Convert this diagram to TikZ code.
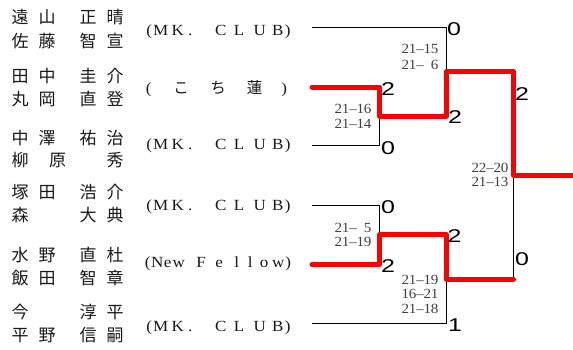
\documentclass[tikz,border=0pt]{standalone}
\usepackage{fontspec}
\setmainfont{Liberation Serif}
\newfontfamily\jpf{Noto Sans CJK JP}
\newfontfamily\numf[FakeStretch=1.35]{Liberation Sans}
\newfontfamily\scfont[FakeStretch=1.08]{Liberation Serif}
\newfontfamily\teamf[FakeStretch=1.1]{Liberation Serif}
\newcommand\putc[2]{\rlap{\hspace*{#1pt}\makebox[0pt]{#2}}}
\newcommand\nmrow[4]{\putc{20}{#1}\putc{47}{#2}\putc{88}{#3}\putc{115}{#4}\hspace*{130pt}}
\newcommand\dd[1]{\makebox[7.3pt][c]{#1}}
\newcommand\sg[4]{\dd{#1}\dd{#2}\dd{–}\dd{#3}\dd{#4}}
\newcommand\mkclub{\putc{4}{(}\putc{15.5}{M}\putc{32.5}{K}\putc{45}{.}\putc{75.5}{C}\putc{94}{L}\putc{114.5}{U}\putc{132.5}{B}\putc{142.5}{)}\hspace*{145pt}}
\tikzset{
  namet/.style={anchor=base west,inner sep=0pt,font=\jpf\fontsize{17}{18}\selectfont,text=black!90},
  teamt/.style={anchor=base west,inner sep=0pt,font=\teamf\fontsize{15.5}{17}\selectfont,text=black!90},
  scoret/.style={anchor=base east,inner sep=0pt,font=\scfont\fontsize{14}{15}\selectfont,text=black!75},
  wint/.style={anchor=base west,inner sep=0pt,font=\numf\fontsize{18.5}{19}\selectfont,text=black},
  thinl/.style={draw=black,line width=1pt},
  redl/.style={draw=red,line width=5pt,line cap=round,line join=round}
}
\begin{document}
\begin{tikzpicture}[x=1pt,y=-1pt]
\useasboundingbox (0,0) rectangle (573,349);
% names
\node[namet] (a1) at (0,23.5) {\nmrow{遠}{山}{正}{晴}};
\node[namet] (a2) at (0,47.5) {\nmrow{佐}{藤}{智}{宣}};
\node[namet] (b1) at (0,82.5) {\nmrow{田}{中}{圭}{介}};
\node[namet] (b2) at (0,105.5) {\nmrow{丸}{岡}{直}{登}};
\node[namet] (c1) at (0,144) {\nmrow{中}{澤}{祐}{治}};
\node[namet] (c2) at (0,166) {\putc{20}{柳}\putc{57.5}{原}\putc{115}{秀}\hspace*{130pt}};
\node[namet] (d1) at (0,198.5) {\nmrow{塚}{田}{浩}{介}};
\node[namet] (d2) at (0,221.5) {\putc{20}{森}\putc{88}{大}\putc{115}{典}\hspace*{130pt}};
\node[namet] (e1) at (0,261.5) {\nmrow{水}{野}{直}{杜}};
\node[namet] (e2) at (0,284.5) {\nmrow{飯}{田}{智}{章}};
\node[namet] (f1) at (0,318.5) {\putc{20}{今}\putc{88}{淳}\putc{115}{平}\hspace*{130pt}};
\node[namet] (f2) at (0,341.5) {\nmrow{平}{野}{信}{嗣}};
% teams
\node[teamt] (ta) at (145,35) {\mkclub};
\node[teamt] (tb) at (145,93.5) {\putc{3.5}{(}\putc{36}{\jpf こ}\putc{73}{\jpf ち}\putc{109.5}{\jpf 蓮}\putc{139}{)}\hspace*{145pt}};
\node[teamt] (tc) at (145,149) {\mkclub};
\node[teamt] (td) at (145,210) {\mkclub};
\node[teamt] (te) at (145,267.5) {\putc{2.5}{(}\putc{12}{N}\putc{22.5}{e}\putc{33.5}{w}\putc{56}{F}\putc{74}{e}\putc{91.5}{l}\putc{105}{l}\putc{119}{o}\putc{133}{w}\putc{143}{)}\hspace*{145pt}};
\node[teamt] (tf) at (145,331.5) {\mkclub};
% bracket coordinates
\coordinate (L1) at (312,27.5);
\coordinate (L2) at (312,87);
\coordinate (L3) at (312,145.5);
\coordinate (L4) at (312,205);
\coordinate (L5) at (312,264.5);
\coordinate (L6) at (312,323);
\coordinate (A1) at (446,27.5);
\coordinate (A2) at (379.5,87);
\coordinate (A3) at (379.5,145.5);
\coordinate (A4) at (379.5,205);
\coordinate (A5) at (379.5,264.5);
\coordinate (A6) at (446,323);
\coordinate (S1a) at (379.5,116);
\coordinate (S1b) at (446,116);
\coordinate (S2a) at (379.5,234.5);
\coordinate (S2b) at (446,234.5);
\coordinate (Q1a) at (446,71.75);
\coordinate (Q1b) at (513.5,71.75);
\coordinate (Q2a) at (446,279);
\coordinate (Q2b) at (513.5,279);
\coordinate (F) at (513.5,175);
\coordinate (W) at (575,175);
% thin lines
\draw[thinl] (L1) -- (A1) -- (Q1a);
\draw[thinl] (L3) -- (A3) -- (S1a);
\draw[thinl] (L4) -- (A4) -- (S2a);
\draw[thinl] (L6) -- (A6) -- (Q2a);
\draw[thinl] (Q2b) -- (F);
% winners
\draw[redl] (L2) -- (A2) -- (S1a) -- (S1b) -- (Q1a) -- (Q1b) -- (F) -- (W);
\draw[redl] (L5) -- (A5) -- (S2a) -- (S2b) -- (Q2a) -- (Q2b);
% game counts
\node[wint] (g1) at (447,35.3) {0};
\node[wint] (g2) at (381,95) {2};
\node[wint] (g3) at (381,154) {0};
\node[wint] (g4) at (448,123.8) {2};
\node[wint] (g5) at (515,100.5) {2};
\node[wint] (g6) at (381,213) {0};
\node[wint] (g7) at (381,272.5) {2};
\node[wint] (g8) at (447.5,242.5) {2};
\node[wint] (g9) at (448,331) {1};
\node[wint] (g10) at (515,265.5) {0};
% set scores
\node[scoret] (s1) at (438.5,53.8) {\sg2115};
\node[scoret] (s2) at (438.5,69.3) {\sg21{}6};
\node[scoret] (s3) at (371.5,113.8) {\sg2116};
\node[scoret] (s4) at (371.5,128.8) {\sg2114};
\node[scoret] (s5) at (508.5,172.8) {\sg2220};
\node[scoret] (s6) at (508.5,186.8) {\sg2113};
\node[scoret] (s7) at (371.5,232.8) {\sg21{}5};
\node[scoret] (s8) at (371.5,246.8) {\sg2119};
\node[scoret] (s9) at (438.5,284.8) {\sg2119};
\node[scoret] (s10) at (438.5,298.8) {\sg1621};
\node[scoret] (s11) at (438.5,313.8) {\sg2118};
\end{tikzpicture}
\end{document}
